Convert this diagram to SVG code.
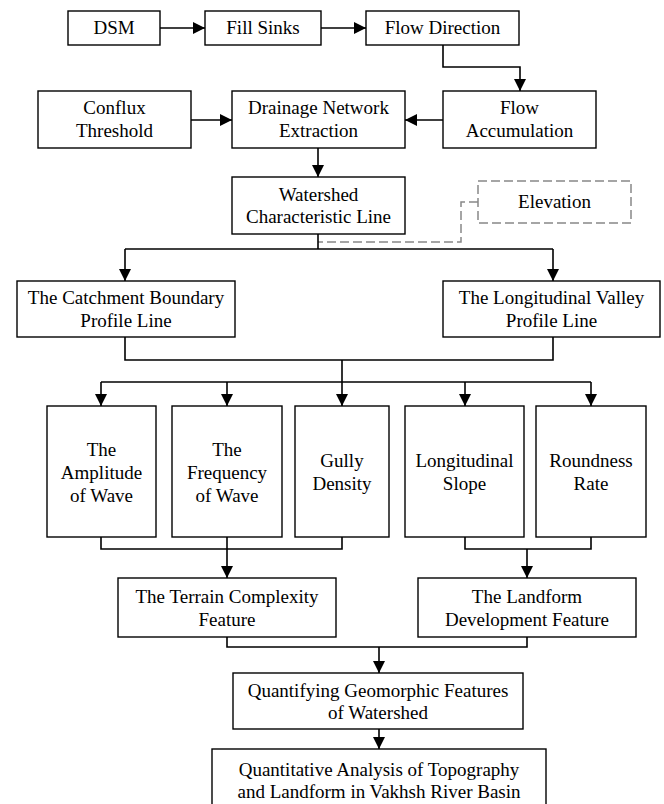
<svg xmlns="http://www.w3.org/2000/svg" width="664" height="804" viewBox="0 0 664 804">
<style>
.b{fill:#fff;stroke:#000;stroke-width:1.4}
.d{fill:#fff;stroke:#888;stroke-width:1.5;stroke-dasharray:9,4}
text{font-family:"Liberation Serif","Times New Roman",serif;font-size:19px;fill:#000;text-anchor:middle}
.c path{fill:none;stroke:#000;stroke-width:1.6}
.c path.a{marker-end:url(#ah)}
.c path.g{stroke:#888;stroke-dasharray:9,4;stroke-width:1.5}
</style>
<defs>
<marker id="ah" markerUnits="userSpaceOnUse" markerWidth="12" markerHeight="12" refX="12" refY="6" orient="auto" viewBox="0 0 12 12">
<path d="M0,0 L12,6 L0,12 z" fill="#000"/>
</marker>
</defs>
<rect width="664" height="804" fill="#fff"/>
<g class="c" id="connectors">
<path class="a" d="M160,28 H205"/>
<path class="a" d="M321,28 H366"/>
<path class="a" d="M443,45 V67 H520 V91"/>
<path class="a" d="M191,120 H232"/>
<path class="a" d="M443,120 H405"/>
<path class="a" d="M318,148 V177"/>
<path class="g" d="M478,202 H461 V242 H318"/>
<path d="M318,234 V249"/>
<path d="M125,249 H553"/>
<path class="a" d="M125,249 V281"/>
<path class="a" d="M553,249 V281"/>
<path d="M125,337 V360 H553 V337"/>
<path d="M342,360 V382"/>
<path d="M101,382 H591"/>
<path class="a" d="M101,382 V406"/>
<path class="a" d="M227,382 V406"/>
<path class="a" d="M342,382 V406"/>
<path class="a" d="M465,382 V406"/>
<path class="a" d="M591,382 V406"/>
<path d="M101,537 V549 H342 V537"/>
<path class="a" d="M227,537 V578"/>
<path d="M465,537 V549 H591 V537"/>
<path class="a" d="M527,549 V578"/>
<path d="M227,637 V647 H527 V637"/>
<path class="a" d="M379,647 V673"/>
<path class="a" d="M379,729 V749"/>
</g>
<g id="dsm"><rect class="b" x="68" y="11" width="92" height="34"/><text x="114" y="34">DSM</text></g>
<g id="fill-sinks"><rect class="b" x="205" y="11" width="116" height="34"/><text x="263" y="34">Fill Sinks</text></g>
<g id="flow-direction"><rect class="b" x="366" y="11" width="153" height="34"/><text x="442.5" y="34">Flow Direction</text></g>
<g id="conflux-threshold"><rect class="b" x="38" y="91" width="153" height="57"/><text x="114.5" y="114">Conflux</text><text x="114.5" y="137">Threshold</text></g>
<g id="drainage"><rect class="b" x="232" y="91" width="173" height="57"/><text x="318.5" y="114">Drainage Network</text><text x="318.5" y="137">Extraction</text></g>
<g id="flow-accumulation"><rect class="b" x="443" y="91" width="153" height="57"/><text x="519.5" y="114">Flow</text><text x="519.5" y="137">Accumulation</text></g>
<g id="watershed"><rect class="b" x="232" y="177" width="173" height="57"/><text x="318.5" y="201">Watershed</text><text x="318.5" y="223">Characteristic Line</text></g>
<g id="elevation"><rect class="d" x="478" y="181" width="153" height="42"/><text x="554.5" y="208">Elevation</text></g>
<g id="catchment"><rect class="b" x="17" y="281" width="218" height="56"/><text x="126" y="304">The Catchment Boundary</text><text x="126" y="327">Profile Line</text></g>
<g id="valley"><rect class="b" x="443" y="281" width="217" height="56"/><text x="551.5" y="304">The Longitudinal Valley</text><text x="551.5" y="327">Profile Line</text></g>
<g id="amplitude"><rect class="b" x="47" y="406" width="109" height="131"/><text x="101.5" y="456">The</text><text x="101.5" y="479">Amplitude</text><text x="101.5" y="502">of Wave</text></g>
<g id="frequency"><rect class="b" x="172" y="406" width="110" height="131"/><text x="227" y="456">The</text><text x="227" y="479">Frequency</text><text x="227" y="502">of Wave</text></g>
<g id="gully"><rect class="b" x="295" y="406" width="94" height="131"/><text x="342" y="467">Gully</text><text x="342" y="490">Density</text></g>
<g id="slope"><rect class="b" x="405" y="406" width="119" height="131"/><text x="464.5" y="467">Longitudinal</text><text x="464.5" y="490">Slope</text></g>
<g id="roundness"><rect class="b" x="536" y="406" width="110" height="131"/><text x="591" y="467">Roundness</text><text x="591" y="490">Rate</text></g>
<g id="terrain"><rect class="b" x="118" y="578" width="218" height="59"/><text x="227" y="603">The Terrain Complexity</text><text x="227" y="626">Feature</text></g>
<g id="landform"><rect class="b" x="418" y="578" width="218" height="59"/><text x="527" y="603">The Landform</text><text x="527" y="626">Development Feature</text></g>
<g id="quantifying"><rect class="b" x="233" y="673" width="290" height="56"/><text x="378" y="697">Quantifying Geomorphic Features</text><text x="378" y="719">of Watershed</text></g>
<g id="quantitative"><rect class="b" x="212" y="749" width="334" height="62"/><text x="379" y="776">Quantitative Analysis of Topography</text><text x="379" y="798">and Landform in Vakhsh River Basin</text></g>
</svg>
